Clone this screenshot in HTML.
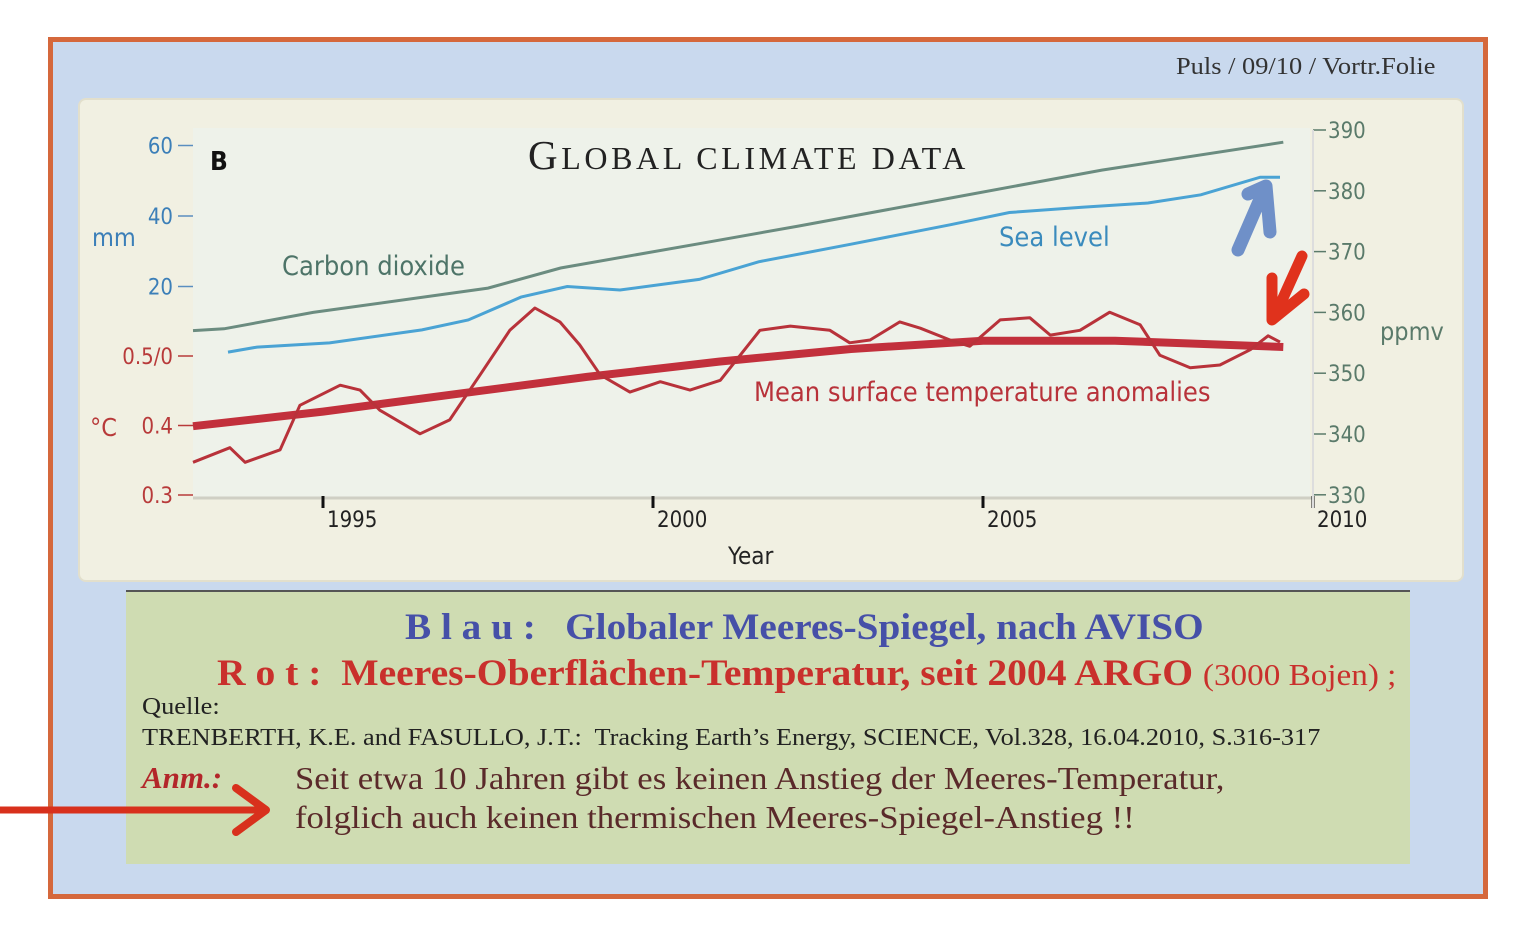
<!DOCTYPE html>
<html><head><meta charset="utf-8"><style>
body{margin:0;width:1540px;height:950px;background:#fff;position:relative;overflow:hidden;font-family:"Liberation Serif",serif}
.abs{position:absolute;white-space:nowrap;transform-origin:0 0}
</style></head><body>
<div class="abs" style="left:48px;top:37px;width:1430px;height:852px;border:5px solid #d5683c;background:#c9d9ee"></div>
<div class="abs" style="left:1176px;top:54px;font-size:24px;color:#333;transform:scaleX(1.1)">Puls / 09/10 / Vortr.Folie</div>
<div class="abs" style="left:78px;top:98px;width:1382px;height:480px;background:#f1f0e2;border:2px solid #e2dfcc;border-radius:8px"></div>
<svg class="abs" style="left:0;top:0" width="1540" height="600" id="chart"></svg>
<div class="abs" style="left:126px;top:590px;width:1284px;height:272px;background:#cfdcb2;border-top:2px solid #555"></div>
<div class="abs" style="left:405px;top:606px;font-size:37px;font-weight:bold;color:#4650a8;transform:scaleX(1.06)">B l a u :&nbsp;&nbsp; Globaler Meeres-Spiegel, nach AVISO</div>
<div class="abs" style="left:217px;top:652px;font-size:37px;font-weight:bold;color:#c9302c;transform:scaleX(1.07)">R o t :&nbsp; Meeres-Oberflächen-Temperatur, seit 2004 ARGO <span style="font-weight:normal;font-size:31px">(3000 Bojen) ;</span></div>
<div class="abs" style="left:142px;top:694px;font-size:24px;color:#222;transform:scaleX(1.1)">Quelle:</div>
<div class="abs" style="left:142px;top:725px;font-size:24px;color:#222;transform:scaleX(1.095)">TRENBERTH, K.E. and FASULLO, J.T.:&nbsp; Tracking Earth’s Energy, SCIENCE, Vol.328, 16.04.2010, S.316-317</div>
<div class="abs" style="left:142px;top:760px;font-size:31px;font-weight:bold;font-style:italic;color:#b3262a">Anm.:</div>
<div class="abs" style="left:295px;top:759px;font-size:32px;color:#5a2a2a;line-height:39px;transform:scaleX(1.085)">Seit etwa 10 Jahren gibt es keinen Anstieg der Meeres-Temperatur,<br>folglich auch keinen thermischen Meeres-Spiegel-Anstieg !!</div>
<svg class="abs" style="left:0;top:780px" width="290" height="60"><line x1="0" y1="30" x2="262" y2="30" stroke="#d8301c" stroke-width="7"/><polyline points="236,8 266,30 236,52" fill="none" stroke="#d8301c" stroke-width="8" stroke-linecap="round" stroke-linejoin="round"/></svg>
<script>
const co2Years=[1993.03,1993.5,1994.85,1997.5,1998.6,2000.7,2002.2,2004.5,2006.8,2009.55];
const co2Values=[357,357.3,360,364,367.3,371.3,374.2,378.8,383.4,388];
const seaYears=[1993.56,1994,1995.1,1996.5,1997.2,1998,1998.7,1999.5,2000.7,2001.6,2003,2004.5,2005.4,2006.5,2007.5,2008.3,2009.2,2009.5];
const seaValues=[1.4,2.8,4,7.7,10.5,17,20,19,22,27,32,37.5,41,42.5,43.7,46,51,51];
const tempYears=[1993.03,1993.59,1993.82,1994.35,1994.65,1995.26,1995.56,1995.86,1996.47,1996.92,1997.38,1997.83,1998.21,1998.59,1998.89,1999.2,1999.65,2000.11,2000.56,2001.02,2001.62,2002.08,2002.68,2002.98,2003.29,2003.74,2004.05,2004.5,2004.8,2005.26,2005.71,2006.02,2006.47,2006.92,2007.38,2007.68,2008.14,2008.59,2009.05,2009.32,2009.5];
const tempValues=[0.347,0.368,0.347,0.365,0.429,0.458,0.451,0.422,0.388,0.408,0.473,0.537,0.569,0.549,0.516,0.473,0.448,0.463,0.451,0.465,0.537,0.543,0.537,0.519,0.523,0.549,0.540,0.523,0.514,0.552,0.555,0.530,0.537,0.563,0.545,0.501,0.483,0.487,0.509,0.529,0.520];
const trendYears=[1993.03,1995,1997,1999,2001,2003,2005,2007,2009.55];
const trendValues=[0.399,0.42,0.445,0.47,0.492,0.51,0.522,0.522,0.513];
const xTicks=[1995,2000,2005,2010];
const mmTicks=[20,40,60];
const tempTicks=[0.3,0.4,0.5];
const ppmTicks=[330,340,350,360,370,380,390];

const X=y=>323+(y-1995)*66;
const Ymm=v=>357-v*3.525;
const Yt=v=>495-(v-0.3)*695;
const Yp=v=>130+(390-v)*6.08;
const NS='http://www.w3.org/2000/svg';
const svg=document.getElementById('chart');
function el(t,a,txt){const e=document.createElementNS(NS,t);for(const k in a)e.setAttribute(k,a[k]);if(txt!==undefined)e.textContent=txt;svg.appendChild(e);return e;}
function pts(xs,ys,fy){return xs.map((x,i)=>X(x).toFixed(1)+','+fy(ys[i]).toFixed(1)).join(' ');}

let e;
e=el('rect',{x:193,y:128,width:1117,height:370,fill:'#eef2ea'});


e=el('line',{x1:193,y1:498,x2:1313,y2:498,stroke:'#cfcfc4','stroke-width':3});


xTicks.forEach(t=>{
 e=el('line',{x1:X(t),y1:496,x2:X(t),y2:508,stroke:'#111','stroke-width':3});
 
 
 e=el('text',{x:X(t)+4,y:527,'font-family':'DejaVu Sans Condensed, Liberation Sans, sans-serif','font-size':22,fill:'#222'},String(t));
 
 
});
mmTicks.forEach(t=>{
 e=el('line',{x1:178,y1:Ymm(t),x2:193,y2:Ymm(t),stroke:'#5a8ec0','stroke-width':1.5});
 
 
 e=el('text',{x:173,y:Ymm(t)+8,'text-anchor':'end','font-family':'DejaVu Sans Condensed, Liberation Sans, sans-serif','font-size':22,fill:'#3c7fb8'},String(t));
 
 
});
tempTicks.forEach(t=>{
 e=el('line',{x1:178,y1:Yt(t),x2:193,y2:Yt(t),stroke:'#b83a3a','stroke-width':1.5});
 
 
 e=el('text',{x:173,y:Yt(t)+8,'text-anchor':'end','font-family':'DejaVu Sans Condensed, Liberation Sans, sans-serif','font-size':22,fill:'#b83a3a'},t===0.5?'0.5/0':String(t));
 
 
});
ppmTicks.forEach(t=>{
 e=el('line',{x1:1313,y1:Yp(t),x2:1326,y2:Yp(t),stroke:'#5a7a6a','stroke-width':1.5});
 
 
 e=el('text',{x:1328,y:Yp(t)+8,'font-family':'DejaVu Sans Condensed, Liberation Sans, sans-serif','font-size':22,fill:'#5a7a6a'},String(t));
 
 
});
e=el('line',{x1:1313,y1:130,x2:1313,y2:508,stroke:'#ddd','stroke-width':2});


const labs=[['mm',92,246,'#3c7fb8',25,'mm-axis-title'],['°C',90,436,'#b83a3a',25,'temp-axis-title'],['ppmv',1380,340,'#5a7a6a',25,'ppmv-axis-title'],['Year',728,564,'#222',24,'x-axis-title'],['B',210,170,'#111',26,'panel-letter'],['Carbon dioxide',282,275,'#4d7468',27,'co2-label'],['Sea level',999,246,'#3a8bbd',27,'sea-level-label'],['Mean surface temperature anomalies',754,401,'#b8323a',27,'temp-label']];
labs.forEach(l=>{
 e=el('text',{x:l[1],y:l[2],'font-family':'DejaVu Sans Condensed, Liberation Sans, sans-serif','font-size':l[4],fill:l[3],'font-weight':l[0]==='B'?'bold':'normal'},l[0]);
 
 
});
e=el('text',{x:528,y:169,'font-family':'Liberation Serif, serif','font-size':41,fill:'#222','letter-spacing':3.6},'');
e.innerHTML='G<tspan font-size="32">LOBAL CLIMATE DATA</tspan>';



e=el('polyline',{points:pts(co2Years,co2Values,Yp),fill:'none',stroke:'#6b8c80','stroke-width':3});


e=el('polyline',{points:pts(seaYears,seaValues,Ymm),fill:'none',stroke:'#4aa3d4','stroke-width':3});


e=el('polyline',{points:pts(trendYears,trendValues,Yt),fill:'none',stroke:'#c2303c','stroke-width':8,'stroke-linejoin':'round'});


e=el('polyline',{points:pts(tempYears,tempValues,Yt),fill:'none',stroke:'#b8323a','stroke-width':3,'stroke-linejoin':'round'});



e=el('path',{d:'M1238,250 L1264,190 M1248,194 L1266,186 L1270,232',fill:'none',stroke:'#6f90c8','stroke-width':13,'stroke-linecap':'round','stroke-linejoin':'round'});


e=el('path',{d:'M1302,256 L1274,318 M1272,278 L1272,320 L1304,294',fill:'none',stroke:'#e0321c','stroke-width':11,'stroke-linecap':'round','stroke-linejoin':'round'});


</script>
</body></html>
